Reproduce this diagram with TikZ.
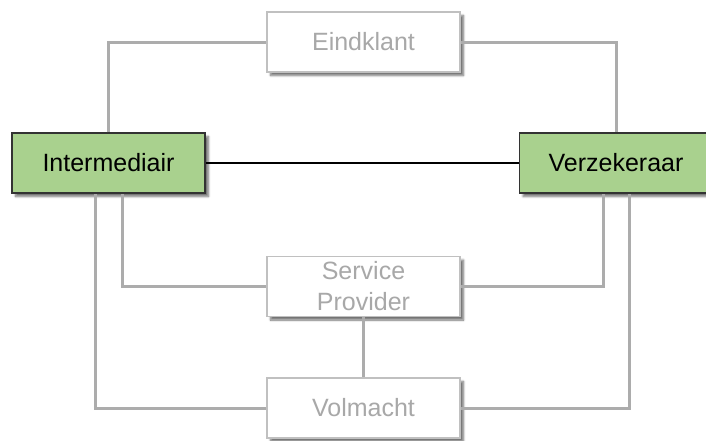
\documentclass[tikz,border=0pt]{standalone}
\usepackage{fontspec}
\setmainfont{Liberation Sans}
\usetikzlibrary{calc,positioning,shadows.blur}
\definecolor{groen}{RGB}{169,209,142}
\definecolor{lijngrijs}{RGB}{172,172,172}
\definecolor{randgrijs}{RGB}{192,192,192}
\definecolor{tekstgrijs}{RGB}{168,168,168}
\begin{document}
\begin{tikzpicture}[x=1pt,y=-1pt,
        doos/.style={minimum width=193pt,minimum height=60pt,align=center,inner sep=0pt,
            font=\fontsize{25}{31}\selectfont,line width=1.5pt,
            blur shadow={shadow xshift=3.5pt,shadow yshift=-3.5pt,shadow blur steps=6,shadow opacity=55}},
        partij/.style={doos,draw=black!80,fill=groen,text=black},
        optie/.style={doos,draw=randgrijs,fill=white,text=tekstgrijs},
        verb/.style={line width=3pt,draw=lijngrijs}]
        \clip(0,0)rectangle(706,440);
        \node[optie](eindklant)at(363.5,42){Eindklant};
        \node[partij](intermediair)at(108.5,163){Intermediair};
        \node[partij](verzekeraar)at(616,163){Verzekeraar};
        \node[optie](provider)at(363.5,286.5){Service\\Provider};
        \node[optie](volmacht)at(363.5,408){Volmacht};
        \draw[verb](intermediair.north)|-(eindklant.west);
        \draw[verb](eindklant.east)-|(verzekeraar.north);
        \draw[verb]($(intermediair.south)+(13.5,0)$)|-(provider.west);
        \draw[verb]($(intermediair.south)+(-13.5,0)$)|-(volmacht.west);
        \draw[verb](provider.east)-|($(verzekeraar.south)+(-13,0)$);
        \draw[verb](volmacht.east)-|($(verzekeraar.south)+(13,0)$);
        \draw[verb](provider)--(volmacht);
        \draw[line width=2.8pt](intermediair)--(verzekeraar);
    \end{tikzpicture}
\end{document}
